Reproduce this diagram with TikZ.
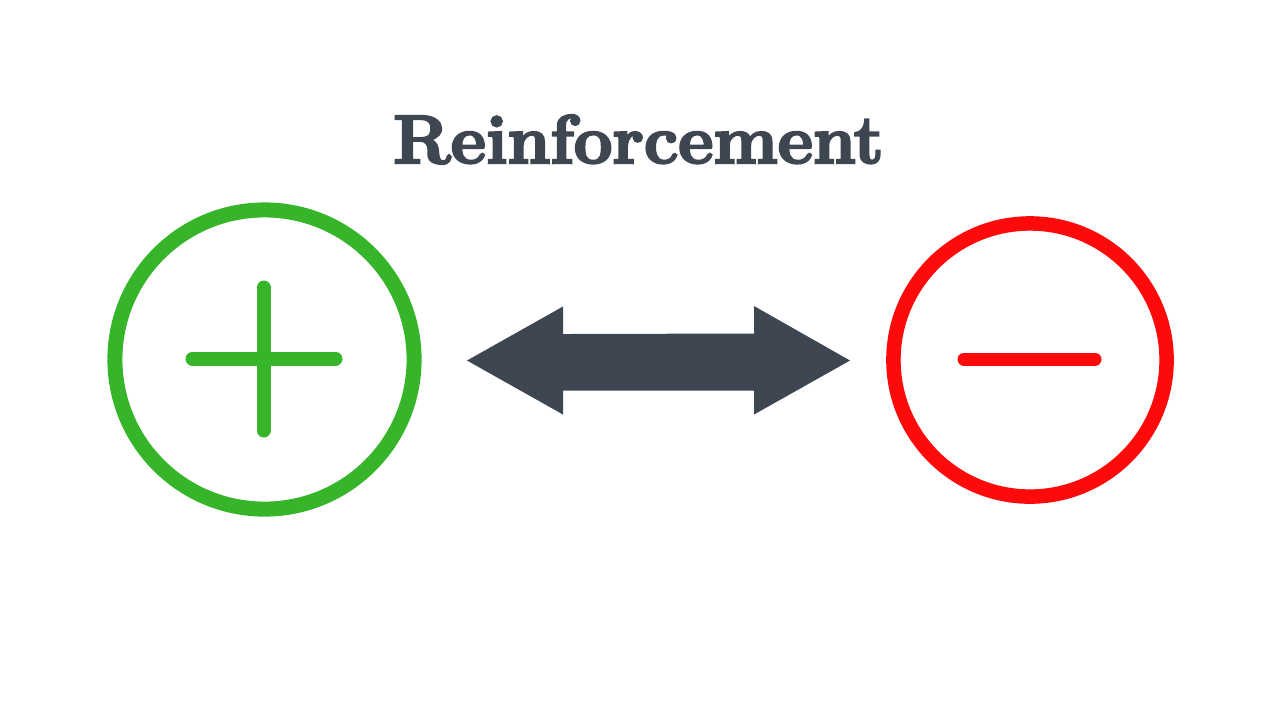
\documentclass[tikz,border=0pt]{standalone}
\usepackage{fontspec}
\usepackage{tikz}
\usetikzlibrary{positioning,calc}
\newfontfamily\ttlfont[FakeBold=3.5]{Latin Modern Roman}
\definecolor{cpos}{HTML}{36B52A}
\definecolor{cneg}{HTML}{FF0A0A}
\definecolor{hdr}{HTML}{3E4652}
\tikzset{
  ring/.style={circle, line width=1.5mm, inner sep=0pt},
  bar/.style={line width=1.4mm, line cap=round},
  ttl/.style={font=\ttlfont\bfseries\fontsize{19.5}{23}\selectfont, text=hdr, inner sep=0pt}
}

\begin{document}
\begin{tikzpicture}[x=0.01cm, y=-0.01cm]
\useasboundingbox (0,0) rectangle (1280,720);
\node[ttl, anchor=base] (title) at (638.5,163) {Reinforcement};

\node[ring, draw=cpos, minimum size=2.99cm] (pos) at (264.5,359.5) {};
\node[ring, draw=cneg, minimum size=2.73cm, line width=1.45mm] (neg) at (1030,360) {};

% plus and minus signs
\draw[bar, draw=cpos] ($(pos)+(-72,-1)$) -- ($(pos)+(71,-1)$);
\draw[bar, draw=cpos] ($(pos)+(-1,-72)$) -- ($(pos)+(-1,71)$);
\draw[bar, draw=cneg, line width=1.3mm] ($(neg)+(-66,-1)$) -- ($(neg)+(65,-1)$);

% double arrow between the two signs
\coordinate (lt) at (467,360.5);
\coordinate (rt) at (850,360.5);
\fill[hdr] (lt) -- ++(96,-54) -- ++(0,27.5) -- ($(rt)+(-96,-27)$) -- ++(0,-27.5)
  -- (rt) -- ++(-96,54) -- ++(0,-24) -- ($(lt)+(96,30)$) -- ++(0,24) -- cycle;
\end{tikzpicture}
\end{document}
